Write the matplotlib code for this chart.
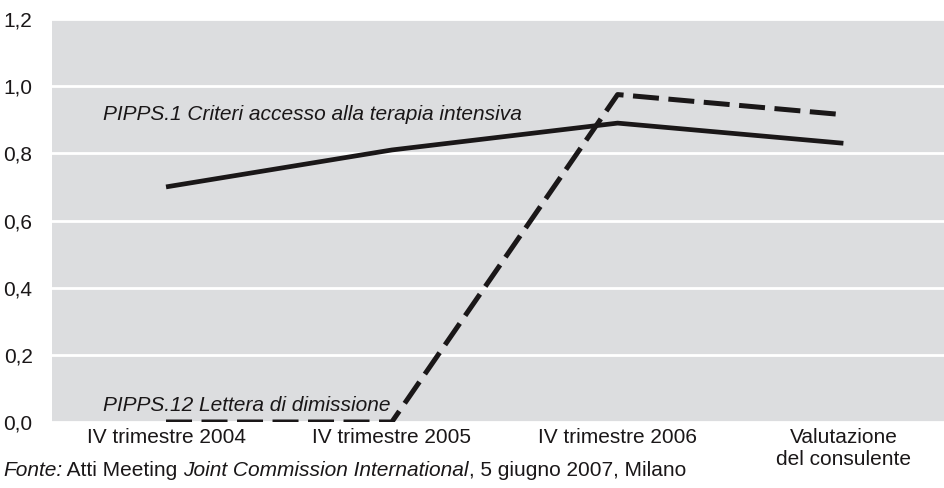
import matplotlib
matplotlib.use("Agg")
import matplotlib.pyplot as plt
from matplotlib.ticker import FuncFormatter
from matplotlib.offsetbox import TextArea, HPacker, AnchoredOffsetbox

categories = ["IV trimestre 2004", "IV trimestre 2005", "IV trimestre 2006", "Valutazione\ndel consulente"]
pipps1 = [0.70, 0.81, 0.89, 0.83]
pipps12 = [0.0, 0.0, 0.975, 0.915]
yticks = [0.0, 0.2, 0.4, 0.6, 0.8, 1.0, 1.2]

plt.rcParams['font.family'] = ['Liberation Sans Narrow', 'Liberation Sans', 'DejaVu Sans']

fig = plt.figure(figsize=(9.45, 4.88), dpi=100)
ax = fig.add_axes([52/945, 1-422/488, 893/945, (422-19)/488])
ax.set_facecolor('#dcdddf')
x = list(range(len(categories)))
ax.plot(x, pipps1, color='#1a1718', lw=3.4, solid_capstyle='butt', zorder=3)
ax.plot(x, pipps12, color='#1a1718', lw=3.6, dashes=(5.2, 1.9), dash_capstyle='butt', zorder=3)
ax.set_xlim(-0.505, 3.45)
ax.set_ylim(0, 1.2)
ax.set_yticks(yticks)
ax.yaxis.set_major_formatter(FuncFormatter(lambda v, p: f"{v:.1f}".replace('.', ',')))
ax.set_xticks(x)
ax.set_xticklabels(categories)
ax.grid(axis='y', color='white', lw=2)
ax.set_axisbelow(True)
for s in ax.spines.values():
    s.set_visible(False)
ax.tick_params(length=0, labelsize=15, colors='#1a1718')
ax.tick_params(axis='y', pad=14)
ax.tick_params(axis='x', pad=4)

ax.text(-0.28, 0.915, "PIPPS.1 Criteri accesso alla terapia intensiva", style='italic',
        fontsize=15, color='#1a1718', va='center')
ax.text(-0.28, 0.05, "PIPPS.12 Lettera di dimissione", style='italic',
        fontsize=15, color='#1a1718', va='center')

parts = [("Fonte:", 'italic'), (" Atti Meeting ", 'normal'), ("Joint Commission International", 'italic'),
         (", 5 giugno 2007, Milano", 'normal')]
boxes = [TextArea(t, textprops=dict(style=st, fontsize=15, color='#1a1718')) for t, st in parts]
pack = HPacker(children=boxes, pad=0, sep=0)
ab = AnchoredOffsetbox(loc='center left', child=pack, frameon=False,
                       bbox_to_anchor=(3/945, 1-470/488), bbox_transform=fig.transFigure, borderpad=0, pad=0)
fig.add_artist(ab)

fig.savefig("out.png", dpi=100)
